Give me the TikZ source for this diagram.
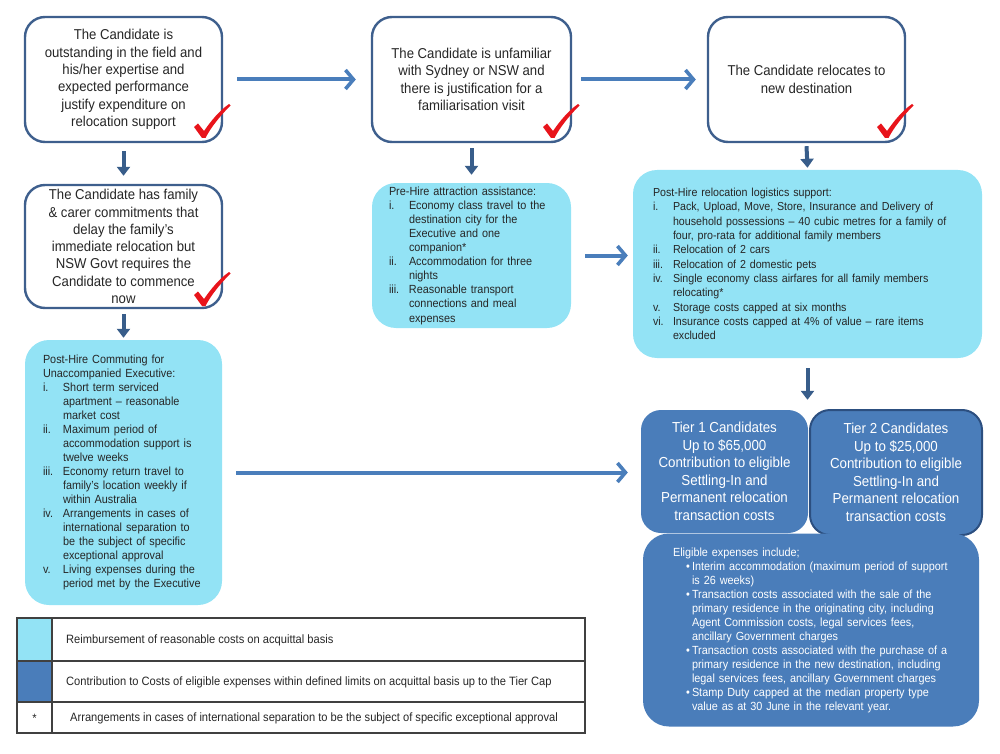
\documentclass[tikz,border=0pt]{standalone}
\usepackage{fontspec}
\setmainfont{Liberation Sans}[FakeStretch=0.92]
\usetikzlibrary{arrows.meta}
\definecolor{bborder}{HTML}{3E5F8D}
\definecolor{harrc}{HTML}{4A7EBB}
\definecolor{varrc}{HTML}{385D8A}
\definecolor{cyanfill}{HTML}{93E3F5}
\definecolor{tierblue}{HTML}{4A7DBA}
\definecolor{tierborder}{HTML}{2C4F80}
\definecolor{chkred}{HTML}{E8141B}
\definecolor{txt}{HTML}{262626}
\newlength\lblw
\newcommand\li[2]{\par\hangindent=\lblw\hangafter=1\noindent\makebox[\lblw][l]{#1}#2}
\begin{document}
\begin{tikzpicture}[x=1pt,y=-1pt,
  qbox/.style={draw=bborder, line width=2.4pt, fill=white, rounded corners=20pt, align=center, text=txt, inner sep=0pt, font=\fontsize{14.3}{17.3}\selectfont},
  cbox/.style={fill=cyanfill, rounded corners=24pt, align=left, text=txt, inner sep=0pt, font=\fontsize{11.8}{14.1}\selectfont},
  tbox/.style={fill=tierblue, rounded corners=20pt, align=center, text=white, inner sep=0pt, font=\fontsize{14.5}{17.5}\selectfont},
  harr/.style={draw=harrc, line width=4pt, -{Straight Barb[length=8pt,width=19pt,line width=3.6pt]}},
  varr/.style={draw=varrc, line width=4pt, -{Triangle[length=9pt,width=13pt]}},
  chk/.pic={\fill[chkred] (-9,-10) -- (-5,-13.5) -- (1,-6) .. controls (8,-16) and (16,-26) .. (26,-33) -- (27.5,-31.5) .. controls (18,-22) and (8,-10) .. (2.5,1) -- (-1,1) -- cycle;},
  legtxt/.style={anchor=west, text=txt, inner sep=0pt, font=\fontsize{12.1}{13}\selectfont}
]
\useasboundingbox (0,0) rectangle (1000,754);

% question boxes
\node[qbox, minimum width=197pt, minimum height=125pt] (A) at (123.5,79.5)
  {The Candidate is\\outstanding in the field and\\his/her expertise and\\expected performance\\justify expenditure on\\relocation support};
\node[qbox, minimum width=199pt, minimum height=125pt] (B) at (471.5,79.5)
  {The Candidate is unfamiliar\\with Sydney or NSW and\\there is justification for a\\familiarisation visit};
\node[qbox, minimum width=197pt, minimum height=125pt] (C) at (806.5,79.5)
  {The Candidate relocates to\\new destination};
\node[qbox, minimum width=197pt, minimum height=123pt] (D) at (123.5,246.5)
  {The Candidate has family\\\& carer commitments that\\delay the family's\\immediate relocation but\\NSW Govt requires the\\Candidate to commence\\now};

% checkmarks
\pic at (203,137) {chk};
\pic at (552,137) {chk};
\pic at (886,137) {chk};
\pic at (203,305) {chk};

% cyan boxes
\node[cbox, minimum width=197pt, minimum height=265pt, text width=161pt, font=\fontsize{11.8}{13.95}\selectfont] (E) at (123.5,472.5)
  {\setlength\lblw{20pt}Post-Hire Commuting  for\newline Unaccompanied Executive:
   \li{i.}{Short term serviced\newline apartment -- reasonable\newline market cost}
   \li{ii.}{Maximum period of\newline accommodation support is\newline twelve weeks}
   \li{iii.}{Economy return travel to\newline family's location weekly if\newline within Australia}
   \li{iv.}{Arrangements in cases of\newline international separation to\newline be the subject of specific\newline exceptional approval}
   \li{v.}{Living expenses during the\newline period met by the Executive}\par};
\node[cbox, minimum width=199pt, minimum height=145pt, text width=165pt] (F) at (471.5,255.5)
  {\setlength\lblw{20pt}Pre-Hire attraction assistance:
   \li{i.}{Economy class travel to the\newline destination city for the\newline Executive and one\newline companion*}
   \li{ii.}{Accommodation for three\newline nights}
   \li{iii.}{Reasonable transport\newline connections and meal\newline expenses}\par};
\node[cbox, minimum width=349pt, minimum height=188pt, text width=309pt, font=\fontsize{11.6}{14.3}\selectfont] (G) at (807.5,264)
  {\setlength\lblw{20pt}Post-Hire relocation logistics support:
   \li{i.}{Pack, Upload, Move, Store, Insurance and Delivery of\newline household possessions -- 40 cubic metres for a family of\newline four, pro-rata for additional family members}
   \li{ii.}{Relocation of 2 cars}
   \li{iii.}{Relocation of 2 domestic pets}
   \li{iv.}{Single economy class airfares for all family members\newline relocating*}
   \li{v.}{Storage costs capped at six months}
   \li{vi.}{Insurance costs capped at  4\% of value -- rare items\newline excluded}\par};

% tier boxes
\node[tbox, minimum width=167pt, minimum height=123pt] (T1) at (724.5,471.5)
  {Tier 1 Candidates\\Up to \$65,000\\Contribution to eligible\\Settling-In and\\Permanent relocation\\transaction costs};
\node[tbox, draw=tierborder, line width=2pt, minimum width=172pt, minimum height=125pt] (T2) at (896,472.5)
  {Tier 2 Candidates\\Up to \$25,000\\Contribution to eligible\\Settling-In and\\Permanent relocation\\transaction costs};
\node[tbox, align=left, minimum width=336pt, minimum height=193pt, text width=276pt, rounded corners=26pt, font=\fontsize{11.8}{14}\selectfont] (EL) at (811,630)
  {\setlength\lblw{19pt}Eligible  expenses include;
   \li{\hspace{13pt}\textbullet}{Interim accommodation (maximum period of support\newline is 26 weeks)}
   \li{\hspace{13pt}\textbullet}{Transaction costs associated with the sale of the\newline primary residence in the originating city, including\newline Agent Commission  costs, legal services fees,\newline ancillary Government charges}
   \li{\hspace{13pt}\textbullet}{Transaction costs associated with the purchase of a\newline primary residence in the new destination, including\newline legal services fees, ancillary Government charges}
   \li{\hspace{13pt}\textbullet}{Stamp Duty capped at the median property type\newline value as at 30 June in the relevant year.}\par};

% arrows
\draw[harr] ([xshift=14pt]A.east) -- ([xshift=-15pt]B.west);
\draw[harr] ([xshift=9pt]B.east) -- ([xshift=-11pt]C.west);
\draw[harr] ([xshift=14pt]F.east) -- ([xshift=-5pt]F.east -| G.west);
\draw[harr] ([xshift=14pt]E.east) -- ([xshift=-13pt]E.east -| T1.west);
\draw[varr] ([yshift=-8pt]A.south) -- ([yshift=8pt]D.north);
\draw[varr] ([yshift=-5pt]D.south) -- ([yshift=2pt]E.north);
\draw[varr] ([yshift=-5pt]B.south) -- ([yshift=8pt]F.north);
\draw[varr] ([yshift=-3pt]C.south) -- ([yshift=2pt]G.north);
\draw[varr] ([yshift=-10pt]G.south) -- ([yshift=10pt]G.south |- T1.north);

% legend
\fill[cyanfill] (17,618) rectangle (52,661);
\fill[tierblue] (17,661) rectangle (52,702);
\draw[draw=black!75, line width=1.1pt] (17,618) rectangle (585,733);
\draw[draw=black!75, line width=1.1pt] (17,661) -- (585,661) (17,702) -- (585,702) (52,618) -- (52,733);
\node[legtxt] (L1) at (66,640) {Reimbursement of reasonable costs on acquittal basis};
\node[legtxt] (L2) at (66,682) {Contribution to Costs of eligible expenses within defined limits on acquittal basis up to the Tier Cap};
\node[legtxt] (L3) at (70,718) {Arrangements in cases of international separation to be the subject of specific exceptional approval};
\node[text=txt, inner sep=0pt, font=\fontsize{12.1}{13}\selectfont] (S) at (34.5,718) {*};
\end{tikzpicture}
\end{document}
